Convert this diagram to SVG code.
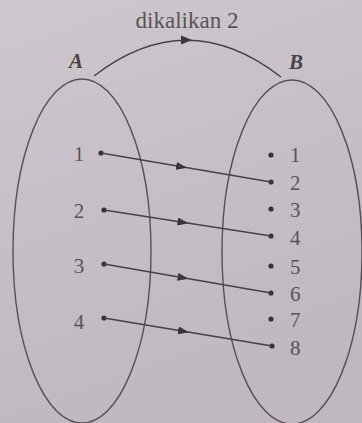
<svg xmlns="http://www.w3.org/2000/svg" width="362" height="423" viewBox="0 0 362 423">
<defs>
<linearGradient id="bg" x1="0" y1="0" x2="0.3" y2="1">
<stop offset="0" stop-color="#cdc8cd"/>
<stop offset="1" stop-color="#bfb8bf"/>
</linearGradient>
<marker id="ah" viewBox="0 0 11 8" refX="10" refY="4" markerWidth="11" markerHeight="8" markerUnits="userSpaceOnUse" orient="auto">
<path d="M0,0 L11,4 L0,8 Z" fill="#3e3439"/>
</marker>
<style>
.set{fill:none;stroke:#5a4f55;stroke-width:1.4}
.conn{fill:none;stroke:#4a3f45;stroke-width:1.3;marker-mid:url(#ah)}
.num{font-size:21px;fill:#5a5257}
.dot{fill:#3a3035}
.lbl{font-size:21px;font-style:italic;font-weight:bold;fill:#4a4247}
.title{font-size:23px;fill:#5a5257}
text{font-family:'Liberation Serif','DejaVu Serif','Times New Roman',serif}
</style>
</defs>
<rect width="362" height="423" fill="url(#bg)"/>
<text class="title" x="187" y="28" text-anchor="middle" font-family="Liberation Serif, DejaVu Serif, serif">dikalikan 2</text>
<g id="setA">
<ellipse class="set" cx="82" cy="251" rx="69" ry="172"/>
<text class="lbl" x="76" y="68" text-anchor="middle" font-family="Liberation Serif, DejaVu Serif, serif">A</text>
<g id="a1"><text class="num" x="79" y="161" text-anchor="middle" font-family="Liberation Serif, DejaVu Serif, serif">1</text><circle class="dot" cx="101" cy="153" r="2.6"/></g>
<g id="a2"><text class="num" x="79" y="218" text-anchor="middle" font-family="Liberation Serif, DejaVu Serif, serif">2</text><circle class="dot" cx="104" cy="210" r="2.6"/></g>
<g id="a3"><text class="num" x="79" y="273" text-anchor="middle" font-family="Liberation Serif, DejaVu Serif, serif">3</text><circle class="dot" cx="104" cy="264" r="2.6"/></g>
<g id="a4"><text class="num" x="79" y="329" text-anchor="middle" font-family="Liberation Serif, DejaVu Serif, serif">4</text><circle class="dot" cx="104" cy="318" r="2.6"/></g>
</g>
<g id="setB">
<ellipse class="set" cx="292" cy="252" rx="70" ry="172"/>
<text class="lbl" x="296" y="69" text-anchor="middle" font-family="Liberation Serif, DejaVu Serif, serif">B</text>
<g id="b1"><circle class="dot" cx="271" cy="155" r="2.6"/><text class="num" x="290" y="162" font-family="Liberation Serif, DejaVu Serif, serif">1</text></g>
<g id="b2"><circle class="dot" cx="271" cy="182" r="2.6"/><text class="num" x="290" y="190" font-family="Liberation Serif, DejaVu Serif, serif">2</text></g>
<g id="b3"><circle class="dot" cx="271" cy="209" r="2.6"/><text class="num" x="290" y="217" font-family="Liberation Serif, DejaVu Serif, serif">3</text></g>
<g id="b4"><circle class="dot" cx="271" cy="236" r="2.6"/><text class="num" x="290" y="245" font-family="Liberation Serif, DejaVu Serif, serif">4</text></g>
<g id="b5"><circle class="dot" cx="271" cy="266" r="2.6"/><text class="num" x="290" y="274" font-family="Liberation Serif, DejaVu Serif, serif">5</text></g>
<g id="b6"><circle class="dot" cx="271" cy="293" r="2.6"/><text class="num" x="290" y="301" font-family="Liberation Serif, DejaVu Serif, serif">6</text></g>
<g id="b7"><circle class="dot" cx="271" cy="319" r="2.6"/><text class="num" x="290" y="327" font-family="Liberation Serif, DejaVu Serif, serif">7</text></g>
<g id="b8"><circle class="dot" cx="272" cy="346" r="2.6"/><text class="num" x="290" y="355" font-family="Liberation Serif, DejaVu Serif, serif">8</text></g>
</g>
<g id="connectors">
<path d="M94,76 Q187,4 281,77" fill="none" stroke="#4a3f45" stroke-width="1.3"/>
<path d="M181,35.5 L192,40 L181,44.5 Z" fill="#3e3439"/>
<path class="conn" d="M101,153 L186,167.5 L271,182"/>
<path class="conn" d="M104,210 L187.5,223 L271,236"/>
<path class="conn" d="M104,264 L187.5,278.5 L271,293"/>
<path class="conn" d="M104,318 L188,332 L272,346"/>
</g>
</svg>
